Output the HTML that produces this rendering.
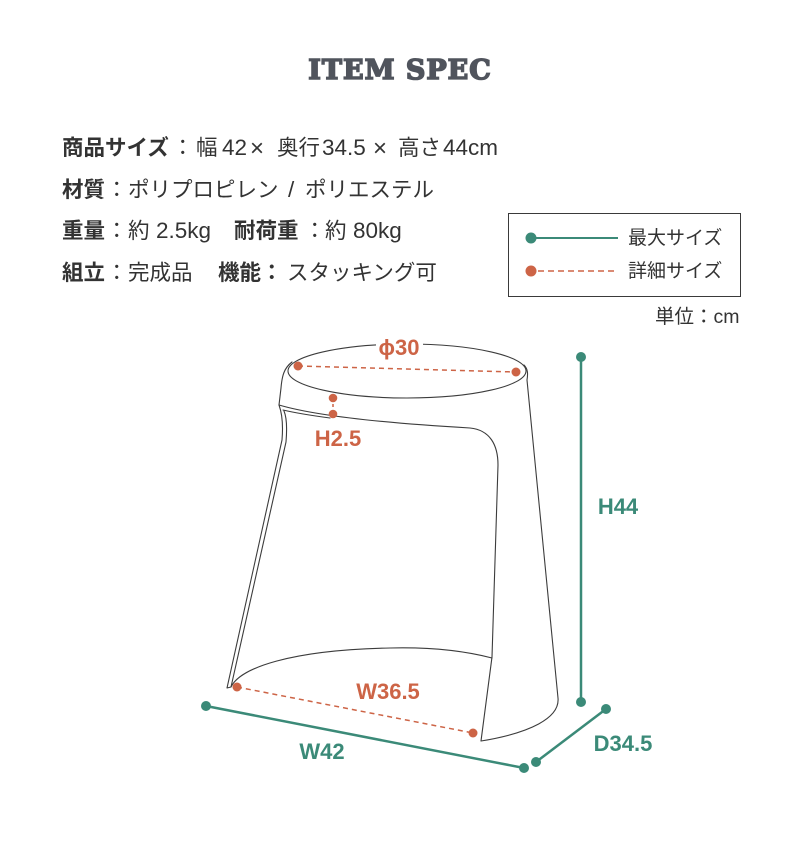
<!DOCTYPE html>
<html><head><meta charset="utf-8">
<style>
html,body{margin:0;padding:0;background:#fff;}
#c{position:relative;width:800px;height:859px;overflow:hidden;background:#fff;font-family:"Liberation Sans","Noto Sans CJK JP",sans-serif;color:#333;}
.t{position:absolute;white-space:nowrap;line-height:1;font-size:21.5px;}
.b{font-weight:bold;}
.l{font-size:22.5px;}
.title{position:absolute;left:0;width:800px;top:57px;text-align:center;font-family:"DejaVu Serif","Liberation Serif",serif;font-weight:bold;font-size:27px;letter-spacing:1px;color:#50545d;line-height:1;-webkit-text-stroke:1.6px #50545d;}
.lg{position:absolute;white-space:nowrap;line-height:1;font-size:19px;color:#333;}
svg{position:absolute;left:0;top:0;}
</style></head>
<body><div id="c">
<div class="title">ITEM SPEC</div>

<!-- line 1 -->
<span class="t b" style="left:62px;top:138px">商品サイズ</span>
<span class="t" style="left:172px;top:138px">：</span>
<span class="t" style="left:196px;top:138px">幅</span>
<span class="t l" style="left:222px;top:137px">42</span>
<span class="t" style="left:250px;top:137px;font-size:24px">×</span>
<span class="t" style="left:277px;top:138px">奥行</span>
<span class="t l" style="left:322px;top:137px">34.5</span>
<span class="t" style="left:373px;top:137px;font-size:24px">×</span>
<span class="t" style="left:398px;top:138px">高さ</span>
<span class="t l" style="left:443px;top:137px">44cm</span>

<!-- line 2 -->
<span class="t b" style="left:62px;top:180px">材質</span>
<span class="t" style="left:106px;top:180px">：</span>
<span class="t" style="left:128px;top:180px">ポリプロピレン</span>
<span class="t l" style="left:288px;top:179px">/</span>
<span class="t" style="left:305px;top:180px">ポリエステル</span>

<!-- line 3 -->
<span class="t b" style="left:62px;top:221px">重量</span>
<span class="t" style="left:106px;top:221px">：</span>
<span class="t" style="left:128px;top:221px">約</span>
<span class="t l" style="left:156px;top:220px">2.5kg</span>
<span class="t b" style="left:234px;top:221px">耐荷重</span>
<span class="t" style="left:304px;top:221px">：</span>
<span class="t" style="left:325px;top:221px">約</span>
<span class="t l" style="left:353px;top:220px">80kg</span>

<!-- line 4 -->
<span class="t b" style="left:62px;top:263px">組立</span>
<span class="t" style="left:106px;top:263px">：</span>
<span class="t" style="left:128px;top:263px">完成品</span>
<span class="t b" style="left:218px;top:263px">機能</span>
<span class="t b" style="left:261px;top:263px">：</span>
<span class="t" style="left:287px;top:263px">スタッキング可</span>

<!-- legend -->
<div style="position:absolute;left:508px;top:213px;width:231px;height:82px;border:1.6px solid #3a3a3a;"></div>
<span class="lg" style="left:628px;top:229px">最大サイズ</span>
<span class="lg" style="left:628px;top:262px">詳細サイズ</span>
<span class="lg" style="left:655px;top:308px;font-size:19.5px">単位：cm</span>

<svg width="800" height="859" viewBox="0 0 800 859" xmlns="http://www.w3.org/2000/svg">
  <!-- legend marks -->
  <line x1="531" y1="238" x2="618" y2="238" stroke="#3b8a78" stroke-width="2"/>
  <circle cx="531" cy="238" r="5.5" fill="#3b8a78"/>
  <line x1="538" y1="271" x2="618" y2="271" stroke="#cd6446" stroke-width="1.6" stroke-dasharray="6 4"/>
  <circle cx="531" cy="271" r="5.5" fill="#cd6446"/>

  <!-- chair outline -->
  <g fill="none" stroke="#3c3c3c" stroke-width="1.1" stroke-linejoin="round" stroke-linecap="round">
    <ellipse cx="407" cy="371" rx="119" ry="27"/>
    <path d="M292,362 C284,368 282,376 281,388 L279,405"/>
    <path d="M279,405 Q330,420 470,428 C490,430 498,445 498,465 L492,657 L481,741"/>
    <path d="M283,410 Q300,414 330,418"/>
    <path d="M524,365 C528,369 528,374 527,380 L558,698 C560,718 530,733 481,741"/>
    <path d="M279,405 C283,416 283,428 282,440 L227,688 L231,687 L286,442 C287,430 287,418 284,411"/>
    <path d="M231,687 C240,668 290,650 390,648 C430,647 465,651 492,658"/>
  </g>

  <!-- phi 30 -->
  <rect x="376" y="335" width="47" height="22" fill="#fff"/>
  <line x1="298" y1="366" x2="516" y2="372" stroke="#cd6446" stroke-width="1.5" stroke-dasharray="5 4"/>
  <circle cx="298" cy="366" r="4.5" fill="#cd6446"/>
  <circle cx="516" cy="372" r="4.5" fill="#cd6446"/>
  <text x="399" y="355" text-anchor="middle" font-family="Liberation Sans, sans-serif" font-weight="bold" font-size="22" fill="#cd6446">ϕ30</text>

  <!-- H2.5 -->
  <line x1="333" y1="398" x2="333" y2="414" stroke="#cd6446" stroke-width="1.5" stroke-dasharray="3 3"/>
  <circle cx="333" cy="398" r="4.3" fill="#cd6446"/>
  <circle cx="333" cy="414" r="4.3" fill="#cd6446"/>
  <text x="338" y="446" text-anchor="middle" font-family="Liberation Sans, sans-serif" font-weight="bold" font-size="22" fill="#cd6446">H2.5</text>

  <!-- W36.5 -->
  <line x1="237" y1="687" x2="473" y2="733" stroke="#cd6446" stroke-width="1.5" stroke-dasharray="5 4"/>
  <circle cx="237" cy="687" r="4.5" fill="#cd6446"/>
  <circle cx="473" cy="733" r="4.5" fill="#cd6446"/>
  <text x="388" y="699" text-anchor="middle" font-family="Liberation Sans, sans-serif" font-weight="bold" font-size="22" fill="#cd6446">W36.5</text>

  <!-- H44 -->
  <line x1="581" y1="357" x2="581" y2="702" stroke="#3b8a78" stroke-width="2.5"/>
  <circle cx="581" cy="357" r="5" fill="#3b8a78"/>
  <circle cx="581" cy="702" r="5" fill="#3b8a78"/>
  <text x="618" y="514" text-anchor="middle" font-family="Liberation Sans, sans-serif" font-weight="bold" font-size="22" fill="#3b8a78">H44</text>

  <!-- W42 -->
  <line x1="206" y1="706" x2="524" y2="768" stroke="#3b8a78" stroke-width="2.5"/>
  <circle cx="206" cy="706" r="5" fill="#3b8a78"/>
  <circle cx="524" cy="768" r="5" fill="#3b8a78"/>
  <text x="322" y="759" text-anchor="middle" font-family="Liberation Sans, sans-serif" font-weight="bold" font-size="22" fill="#3b8a78">W42</text>

  <!-- D34.5 -->
  <line x1="536" y1="762" x2="606" y2="709" stroke="#3b8a78" stroke-width="2.5"/>
  <circle cx="536" cy="762" r="5" fill="#3b8a78"/>
  <circle cx="606" cy="709" r="5" fill="#3b8a78"/>
  <text x="623" y="751" text-anchor="middle" font-family="Liberation Sans, sans-serif" font-weight="bold" font-size="22" fill="#3b8a78">D34.5</text>
</svg>
</div></body></html>
